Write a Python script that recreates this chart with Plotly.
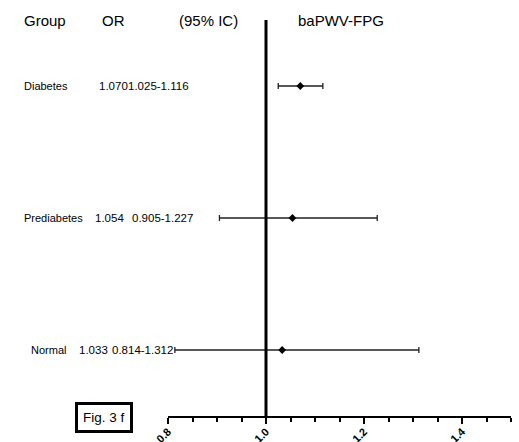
import plotly.graph_objects as go

# Forest plot data: baPWV vs FPG by glycaemic group
groups = ["Normal", "Prediabetes", "Diabetes"]
or_vals = [1.033, 1.054, 1.070]
ci_low = [0.814, 0.905, 1.025]
ci_high = [1.312, 1.227, 1.116]
or_text = ["1.033", "1.054", "1.070"]
ci_text = ["0.814-1.312", "0.905-1.227", "1.025-1.116"]
headers = ["Group", "OR", "(95% IC)", "baPWV-FPG"]
x_ticks = [0.8, 1.0, 1.2, 1.4]

W, H = 519, 442
ML, MR, MT, MB = 168, 8, 20, 26
PW = W - ML - MR
rows = list(range(len(groups)))


def px(xp):
    """Pixel x -> paper x."""
    return (xp - ML) / PW


def py(yp):
    """Pixel y -> paper y."""
    return 1 - (yp - MT) / (H - MT - MB)


fig = go.Figure()
fig.add_trace(go.Scatter(
    x=or_vals, y=rows, mode="markers",
    marker=dict(symbol="diamond", size=6, color="black"),
    error_x=dict(type="data", symmetric=False,
                 array=[h - o for h, o in zip(ci_high, or_vals)],
                 arrayminus=[o - l for o, l in zip(or_vals, ci_low)],
                 color="#222", thickness=1.3, width=3),
    showlegend=False, hoverinfo="skip",
))

# reference line at OR = 1
fig.add_shape(type="line", x0=1.0, x1=1.0, y0=-0.5, y1=2.5,
              xref="x", yref="y", line=dict(color="black", width=3))

font = "Liberation Sans, Arial, sans-serif"
ann = []
# header row
for txt, xp in zip(headers, [22, 100, 177, 296]):
    ann.append(dict(text=txt, x=px(xp), y=py(21), xref="paper", yref="paper",
                    xanchor="left", yanchor="middle", showarrow=False,
                    font=dict(family=font, size=15, color="black")))

# row labels (Normal, Prediabetes, Diabetes)
label_x = [29, 22, 22]
or_x = [77, 93, 97]
ci_x = [110, 130, 126]
for i, r in enumerate(rows):
    for txt, xp, fs in ((groups[i], label_x[i], 11), (or_text[i], or_x[i], 11.5),
                        (ci_text[i], ci_x[i], 11.5)):
        ann.append(dict(text=txt, x=px(xp), y=r, xref="paper", yref="y",
                        xanchor="left", yanchor="middle", showarrow=False,
                        font=dict(family=font, size=fs, color="black")))

# figure tag
ann.append(dict(text="Fig. 3 f", x=px(104), y=py(417), xref="paper", yref="paper",
                xanchor="center", yanchor="middle", showarrow=False,
                bordercolor="black", borderwidth=3, borderpad=5, bgcolor="white",
                font=dict(family=font, size=13.5, color="black")))

fig.update_layout(
    width=W, height=H,
    margin=dict(l=ML, r=MR, t=MT, b=MB),
    paper_bgcolor="white", plot_bgcolor="white",
    annotations=ann,
    xaxis=dict(range=[0.8, 1.5], tickvals=x_ticks,
               ticktext=[f"<b>{v:.1f}</b>" for v in x_ticks],
               automargin=False,
               showgrid=False, zeroline=False, showline=True,
               linecolor="black", linewidth=2,
               ticks="outside", ticklen=6, tickwidth=2, tickcolor="black",
               tickangle=-45, ticklabelstandoff=-3,
               tickfont=dict(family=font, size=11, color="black"),
               minor=dict(tickvals=[round(0.8 + 0.05 * k, 2) for k in range(15)],
                          ticks="outside", ticklen=4, tickwidth=2, tickcolor="black")),
    yaxis=dict(range=[-0.5, 2.5], visible=False, automargin=False),
)

fig.write_html("out.html")
